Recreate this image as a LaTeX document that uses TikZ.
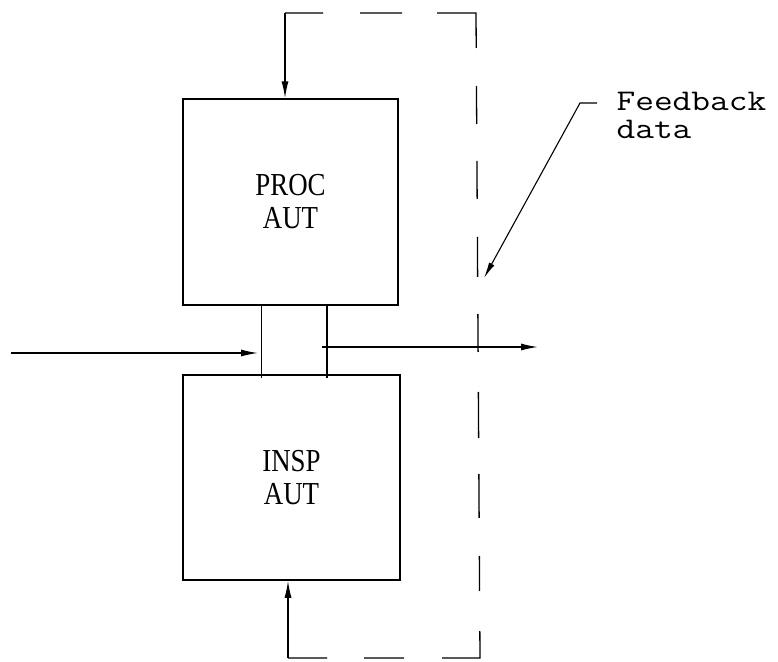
\documentclass[tikz,border=0pt]{standalone}
\usepackage{fontspec}
\usepackage{graphicx}
\usetikzlibrary{arrows.meta}
\newfontfamily\boxfont{Liberation Serif}
\newcommand{\bx}[1]{\scalebox{0.84}[1]{#1}}
\newcommand{\lx}[1]{\scalebox{1.21}[1]{#1}}
\begin{document}
\begin{tikzpicture}[x=1pt,y=-1pt,
  line width=1.3pt,
  box/.style={draw, line width=1.5pt, inner sep=0pt, align=center,
    font=\boxfont\fontsize{32}{33}\selectfont},
  arr/.style={-{Latex[length=17pt,width=7pt]}},
  thinline/.style={line width=0.8pt},
  loop/.style={line width=1.3pt, dash pattern=on 38pt off 37pt on 42pt off 35pt on 74pt off 38pt on 38pt off 37pt on 38pt off 38pt on 40pt off 37pt on 38pt off 40pt on 46pt off 36pt on 44pt off 38pt on 35pt off 40pt on 65pt off 38pt on 40pt off 37pt on 39pt off 10pt},
  lbl/.style={inner sep=0pt, align=left, anchor=north west,
    font=\ttfamily\fontsize{30}{27.5}\selectfont}
]
\useasboundingbox (0,0) rectangle (778,661);

% boxes
\node[box, minimum width=215pt, minimum height=206pt] (proc) at (290.5,202) {\bx{PROC}\\\bx{AUT}};
\node[box, minimum width=217pt, minimum height=205pt] (insp) at (291.5,477.5) {\bx{INSP}\\\bx{AUT}};

% link between boxes
\coordinate (c1) at (261,0);
\coordinate (c2) at (327,0);
\draw[thinline] (c1 |- proc.south) -- ([yshift=-4pt]c1 |- insp.north);
\draw (c2 |- proc.south) -- ([yshift=-4pt]c2 |- insp.north);

% input and output
\coordinate (in) at (11,353);
\coordinate (out) at (538,347);
\draw[arr] (in) -- ([xshift=-3pt]in -| c1);
\draw[arr] ([xshift=-5pt]c2 |- out) -- (out);

% feedback loop
\coordinate (tl) at (285,13);
\coordinate (tr) at (476,13);
\coordinate (br) at (480,658);
\coordinate (bl) at (288,658);
\draw[loop] (tl) -- (tr) -- (br) -- (bl);
\draw[arr] (tl) -- (tl |- proc.north);
\draw[arr] (bl) -- (bl |- insp.south);

% label
\node[lbl] (fb) at (616,92) {\lx{Feedback}\\\lx{data}};
\coordinate (lk) at (597,103);
\coordinate (lb) at (580,103);
\coordinate (tip) at (484,278);
\draw[line width=1.1pt, -{Latex[length=16pt,width=6pt]}] (lk) -- (lb) -- (tip);
\end{tikzpicture}
\end{document}
